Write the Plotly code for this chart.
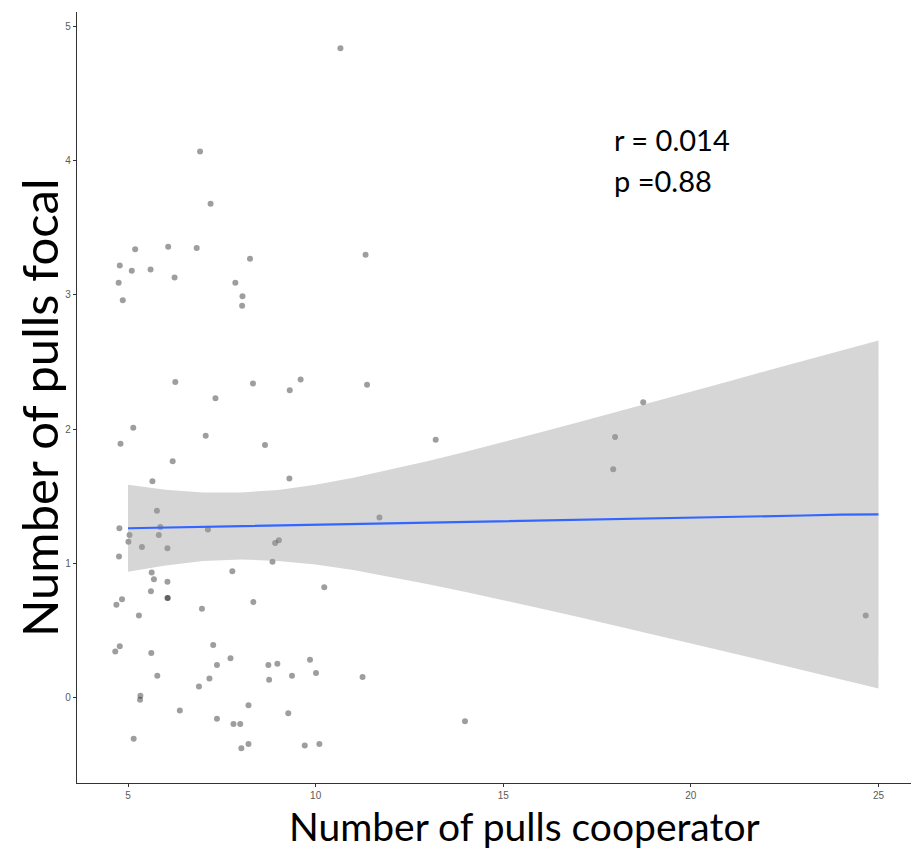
import plotly.graph_objects as go

# Jittered observations (Number of pulls cooperator vs Number of pulls focal)
coop_x = [10.66, 6.92, 7.20, 5.19, 6.07, 6.83, 8.25, 11.33, 4.78, 5.10,
          5.60, 4.75, 6.24, 7.86, 8.05, 8.04, 4.86, 9.60, 6.26, 8.33,
          7.33, 9.31, 5.14, 4.80, 7.07, 8.65, 6.19, 5.65, 9.30, 5.77,
          4.77, 5.86, 5.04, 5.01, 5.82, 5.37, 6.05, 7.13, 9.02, 8.92,
          4.76, 8.85, 5.63, 7.78, 5.69, 6.05, 5.61, 10.23, 4.84, 4.69,
          6.05, 6.06, 8.34, 6.97, 5.29, 7.27, 4.78, 4.66, 5.62, 7.73,
          7.37, 8.74, 8.98, 9.85, 5.78, 7.17, 8.76, 9.37, 10.01, 6.89,
          5.33, 5.32, 6.38, 8.21, 7.37, 7.81, 7.99, 9.27, 5.15, 8.21,
          8.02, 9.71, 10.10, 11.37, 13.20, 11.70, 11.25, 13.98, 18.73, 17.98,
          17.93, 24.66]
focal_y = [4.84, 4.07, 3.68, 3.34, 3.36, 3.35, 3.27, 3.30, 3.22, 3.18,
           3.19, 3.09, 3.13, 3.09, 2.99, 2.92, 2.96, 2.37, 2.35, 2.34,
           2.23, 2.29, 2.01, 1.89, 1.95, 1.88, 1.76, 1.61, 1.63, 1.39,
           1.26, 1.27, 1.21, 1.16, 1.21, 1.12, 1.11, 1.25, 1.17, 1.15,
           1.05, 1.01, 0.93, 0.94, 0.88, 0.86, 0.79, 0.82, 0.73, 0.69,
           0.74, 0.74, 0.71, 0.66, 0.61, 0.39, 0.38, 0.34, 0.33, 0.29,
           0.24, 0.24, 0.25, 0.28, 0.16, 0.14, 0.13, 0.16, 0.18, 0.08,
           0.01, -0.02, -0.10, -0.06, -0.16, -0.20, -0.20, -0.12, -0.31, -0.35,
           -0.38, -0.36, -0.35, 2.33, 1.92, 1.34, 0.15, -0.18, 2.20, 1.94,
           1.70, 0.61]

# Linear smooth: fitted line and 95% band
smooth_x = [5, 6, 7, 8, 9, 10, 11, 12, 13, 14, 15, 16, 17, 18, 19, 20, 21, 22, 23, 24, 25]
fit_y = [1.260, 1.265, 1.271, 1.276, 1.281, 1.287, 1.292, 1.297, 1.302, 1.308, 1.313,
         1.318, 1.324, 1.329, 1.334, 1.340, 1.345, 1.350, 1.355, 1.361, 1.364]
band_upper = [1.584, 1.547, 1.527, 1.526, 1.546, 1.585, 1.636, 1.696, 1.761, 1.831, 1.902,
              1.975, 2.050, 2.125, 2.201, 2.278, 2.355, 2.432, 2.509, 2.585, 2.660]
band_lower = [0.936, 0.983, 1.015, 1.027, 1.016, 0.989, 0.948, 0.898, 0.843, 0.785, 0.724,
              0.661, 0.598, 0.533, 0.467, 0.402, 0.335, 0.268, 0.201, 0.134, 0.065]

x_ticks = [5, 10, 15, 20, 25]
y_ticks = [0, 1, 2, 3, 4, 5]

stats_lines = ["r = 0.014", "p =0.88"]
x_title = "Number of pulls cooperator"
y_title = "Number of pulls focal"

fig = go.Figure()

fig.add_trace(go.Scatter(
    x=coop_x, y=focal_y, mode="markers",
    marker=dict(size=6, color="rgba(0,0,0,0.38)", line=dict(width=0)),
    showlegend=False, hoverinfo="x+y"))

fig.add_trace(go.Scatter(
    x=smooth_x + smooth_x[::-1], y=band_upper + band_lower[::-1],
    fill="toself", fillcolor="rgba(153,153,153,0.4)",
    line=dict(width=0), mode="lines", showlegend=False, hoverinfo="skip"))

fig.add_trace(go.Scatter(
    x=smooth_x, y=fit_y, mode="lines",
    line=dict(color="#3366FF", width=2.2), showlegend=False))

axis_common = dict(
    showgrid=False, zeroline=False, showline=True, linecolor="#333333", linewidth=1.3,
    ticks="outside", ticklen=3, tickcolor="#333333", tickwidth=1,
    tickfont=dict(family="Liberation Sans, Arial, sans-serif", size=10, color="#5a5a5a"),
)

fig.update_xaxes(range=[3.64, 26.0], tickvals=x_ticks, ticktext=[str(v) for v in x_ticks],
                 **axis_common)
fig.update_yaxes(range=[-0.64, 5.11], tickvals=y_ticks, ticktext=[str(v) for v in y_ticks],
                 **axis_common)

annotations = [
    dict(text=x_title, xref="paper", yref="paper", x=0.533, y=-0.056,
         xanchor="center", yanchor="middle", showarrow=False, borderpad=0,
         font=dict(family="Lato, Open Sans, sans-serif", size=39, color="black")),
    dict(text=y_title, xref="paper", yref="paper", x=-0.046, y=0.487,
         xanchor="center", yanchor="middle", textangle=-90, showarrow=False, borderpad=0,
         font=dict(family="Lato, Open Sans, sans-serif", size=49, color="black")),
    dict(text=stats_lines[0], xref="x", yref="y", x=17.93, y=4.16,
         xanchor="left", yanchor="middle", showarrow=False, borderpad=0,
         font=dict(family="Lato, Open Sans, sans-serif", size=29, color="black")),
    dict(text=stats_lines[1], xref="x", yref="y", x=17.93, y=3.85,
         xanchor="left", yanchor="middle", showarrow=False, borderpad=0,
         font=dict(family="Lato, Open Sans, sans-serif", size=29, color="black")),
]

fig.update_layout(
    width=911, height=852,
    margin=dict(l=69, r=3, t=4, b=77),
    paper_bgcolor="white", plot_bgcolor="white",
    annotations=annotations,
    showlegend=False,
)

fig.write_html("out.html")
